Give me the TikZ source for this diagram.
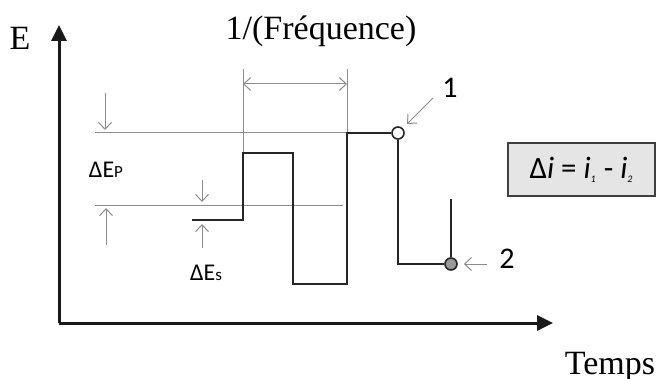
\documentclass[tikz,border=0pt]{standalone}
\usepackage{fontspec}
\setmainfont{Liberation Serif}
\newfontfamily\calibri{Carlito}
\usetikzlibrary{arrows.meta, positioning, calc}

\begin{document}
\begin{tikzpicture}[x=0.5pt, y=-0.5pt,
    axe/.style={line width=1.5pt, black!90, -{Triangle[length=8pt,width=7.5pt]}},
    signal/.style={line width=1pt, black!85},
    repere/.style={line width=0.5pt, black!45},
    fleche/.style={line width=0.5pt, black!45, -{Straight Barb[length=3.5pt,width=6.5pt]}},
    titre/.style={font=\fontsize{17}{20}\selectfont, inner sep=0pt, anchor=base},
    etiquette/.style={font=\calibri\fontsize{12}{14}\selectfont, inner sep=0pt, anchor=base},
    point/.style={circle, draw=black!85, line width=0.8pt, inner sep=0pt, minimum size=6pt},
]
    \useasboundingbox (0,0) rectangle (657,379);

    % Axes E et Temps
    \coordinate (O) at (59,323);
    \coordinate (haut) at (59,25);
    \coordinate (droite) at (553,323);
    \draw[axe] (O) -- (haut);
    \draw[axe] (O) -- (droite);
    \node[titre] (E) at (20,50) {E};
    \node[titre] (temps) at (610,374) {Temps};
    \node[titre] (freq) at (321,40) {1/(Fréquence)};

    % Lignes de repere en gris
    \draw[repere] (95,133) -- (347,133);
    \draw[repere] (95,205) -- (343,205);
    \draw[repere] (243,69) -- (243,153);
    \draw[repere] (347,69) -- (347,133);
    \coordinate (pA) at (243,84);
    \coordinate (pB) at (347,84);
    \draw[fleche, {Straight Barb[length=3.5pt,width=6.5pt]}-{Straight Barb[length=3.5pt,width=6.5pt]}] (pA) -- (pB);

    % Signal en creneaux
    \node[point, fill=white] (p1) at (398,133) {};
    \node[point, fill=black!40] (p2) at (451,264) {};
    \draw[signal] (192,220) -- (243,220) -- (243,153) -- (293,153) -- (293,284)
        -- (347,284) -- (347,133) -- (p1.west);
    \draw[signal] (p1.south) -- (398,264) -- (p2.west);
    \draw[signal] (451,199) -- (p2.north);

    % Amplitudes Delta E
    \draw[fleche] (105,93) -- (105,130);
    \draw[fleche] (106,245) -- (106,208);
    \draw[fleche] (202,180) -- (202,202);
    \draw[fleche] (202,248) -- (202,224);
    \node[etiquette] (dEp) at (106,177) {ΔE{\fontsize{8.5}{10}\selectfont P}};
    \node[etiquette] (dEs) at (206,280) {ΔE{\fontsize{8.5}{10}\selectfont s}};

    % Points 1 et 2
    \node[etiquette, font=\calibri\fontsize{15}{18}\selectfont] (un) at (450,98) {1};
    \node[etiquette, font=\calibri\fontsize{15}{18}\selectfont] (deux) at (507,268) {2};
    \coordinate (f1) at (433,98);
    \coordinate (f2) at (487,264);
    \draw[fleche, shorten >=3pt] (f1) -- (p1);
    \draw[fleche, shorten >=3pt] (f2) -- (p2);

    % Encadre Delta i
    \node[draw=black!75, fill=black!10, line width=1pt, minimum width=73.5pt,
        minimum height=26.5pt, inner sep=0pt, font=\calibri\fontsize{15.5}{18}\selectfont]
        (boite) at (581.5,169.5) {Δ\textit{i} = \textit{i}\textsubscript{\textit{\fontsize{5}{6}\selectfont 1}} - \textit{i}\textsubscript{\textit{\fontsize{5}{6}\selectfont 2}}};

\end{tikzpicture}
\end{document}
